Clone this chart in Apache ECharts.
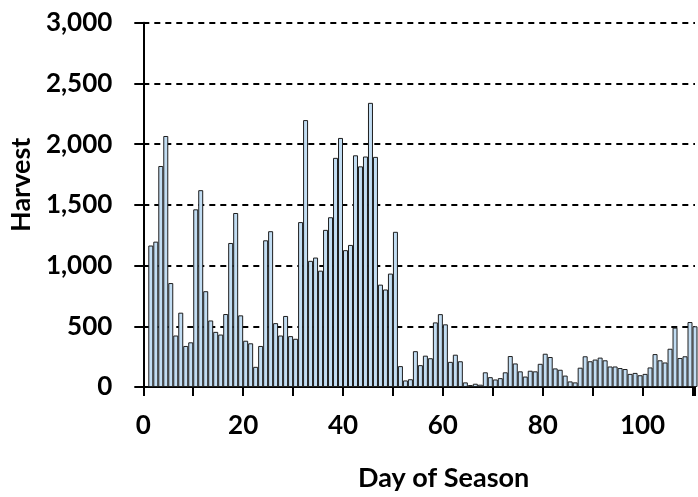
<!DOCTYPE html>
<html>
<head>
<meta charset="utf-8">
<script src="https://cdn.jsdelivr.net/npm/echarts@6/dist/echarts.min.js"></script>
<style>
html,body{margin:0;padding:0;background:#fff;}
#c{width:698px;height:497px;}
</style>
</head>
<body>
<div id="c"></div>
<script>
// Day of season (daily bins: day d covers [d, d+1))
const days = Array.from({length: 110}, (_, i) => i + 1);
// Harvest per day
const harvest = [
  1165, 1197, 1820, 2067, 856, 424, 612, 338, 368, 1463,
  1621, 789, 548, 454, 432, 601, 1186, 1433, 590, 381,
  360, 166, 338, 1208, 1283, 526, 424, 585, 419, 397,
  1358, 2198, 1039, 1066, 958, 1294, 1398, 1887, 2051, 1127,
  1170, 1908, 1817, 1898, 2340, 1895, 843, 803, 934, 1278,
  172, 54, 64, 295, 180, 258, 237, 532, 600, 516,
  207, 266, 212, 38, 16, 27, 19, 121, 81, 62,
  73, 121, 255, 194, 129, 86, 134, 129, 191, 274,
  247, 153, 142, 94, 46, 38, 159, 253, 212, 226,
  242, 220, 169, 169, 156, 148, 108, 116, 97, 108,
  161, 271, 220, 202, 315, 489, 239, 253, 535, 500
];
const xTickLabels = [0, 20, 40, 60, 80, 100];
const yTicks = [0, 500, 1000, 1500, 2000, 2500, 3000];

const FONT = 'Lato';
const chart = echarts.init(document.getElementById('c'), null, {renderer: 'canvas'});

const option = {
  animation: false,
  backgroundColor: '#fff',
  grid: {left: 143, right: 0, top: 22.7, bottom: 101.3, containLabel: false},
  xAxis: {
    type: 'value',
    min: 0, max: 110.5, interval: 10,
    name: 'Day of Season',
    nameLocation: 'middle',
    nameGap: 78,
    nameTextStyle: {fontFamily: FONT, fontWeight: 'bold', fontSize: 27, color: '#000', padding: [0, 0, 0, 49]},
    axisLine: {show: true, onZero: false, lineStyle: {color: '#000', width: 2}},
    axisTick: {show: true, inside: false, length: 9, lineStyle: {color: '#000', width: 2}},
    axisLabel: {
      fontFamily: FONT, fontWeight: 'bold', fontSize: 26, color: '#000', margin: 26,
      formatter: v => xTickLabels.includes(v) ? String(v) : ''
    },
    splitLine: {show: false}
  },
  yAxis: {
    type: 'value',
    min: yTicks[0], max: yTicks[yTicks.length - 1], interval: 500,
    name: 'Harvest',
    nameLocation: 'middle',
    nameGap: 108,
    nameRotate: 90,
    nameTextStyle: {fontFamily: FONT, fontWeight: 'bold', fontSize: 27, color: '#000', padding: [0, 0, 0, 40]},
    axisLine: {show: true, lineStyle: {color: '#000', width: 2}},
    axisTick: {show: true, inside: false, length: 9, lineStyle: {color: '#000', width: 2}},
    axisLabel: {
      fontFamily: FONT, fontWeight: 'bold', fontSize: 26, color: '#000', margin: 31,
      formatter: v => v.toLocaleString('en-US')
    },
    splitLine: {show: true, lineStyle: {color: '#000', width: 2, type: [6, 5]}}
  },
  series: [{
    type: 'bar',
    data: days.map((d, i) => [d + 0.5, harvest[i]]),
    barWidth: 5,
    clip: true,
    itemStyle: {color: '#C2DDF3', borderColor: '#1e1e1e', borderWidth: 1}
  }]
};
chart.setOption(option);
const pxPerDay = chart.convertToPixel({xAxisIndex: 0}, 1) - chart.convertToPixel({xAxisIndex: 0}, 0);
chart.setOption({series: [{barWidth: pxPerDay}]});
</script>
</body>
</html>
